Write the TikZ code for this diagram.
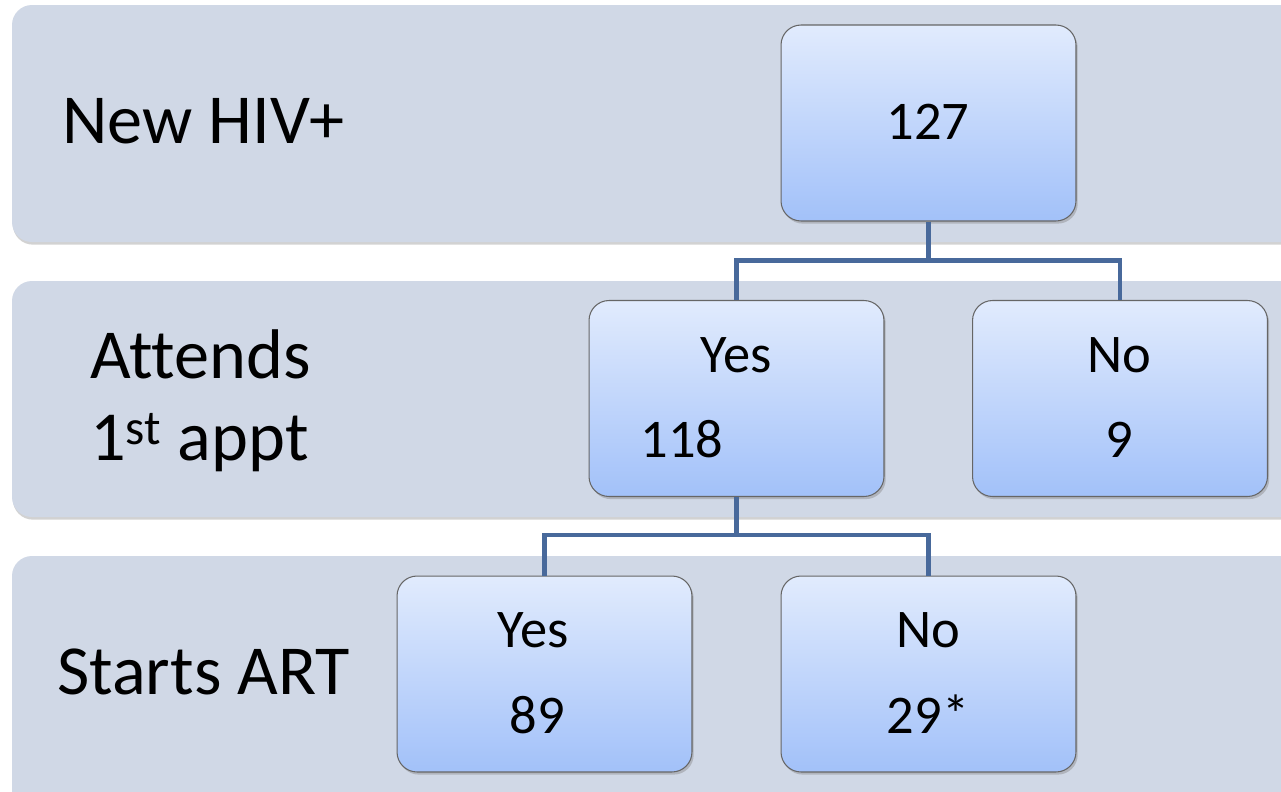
\documentclass[tikz,border=0pt]{standalone}
\usepackage{fontspec}
\setmainfont[Ligatures={NoCommon}]{Carlito}
\usetikzlibrary{positioning,shadows}
\definecolor{bandfill}{HTML}{D0D8E6}
\definecolor{boxtop}{HTML}{E1EBFD}
\definecolor{boxbot}{HTML}{A2C1F9}
\definecolor{linkblue}{HTML}{48699B}
\tikzset{band/.style={fill=bandfill, draw=none, rounded corners=0.4cm,
   drop shadow={shadow xshift=0.5pt, shadow yshift=-1.5pt, opacity=0.35}},
 countbox/.style={draw=gray!80!black, line width=0.6pt, rounded corners=0.4cm,
   top color=boxtop, bottom color=boxbot, minimum width=5.9cm, minimum height=3.92cm,
   drop shadow={shadow xshift=1pt, shadow yshift=-1.5pt, opacity=0.4}},
 stage/.style={anchor=base west, inner sep=0pt, font=\fontsize{40}{48}\selectfont},
 count/.style={anchor=base, inner sep=0pt, font=\fontsize{31}{37}\selectfont},
 link/.style={draw=linkblue, line width=2.3pt},
}

\begin{document}
\begin{tikzpicture}[x=0.02cm, y=-0.02cm]
        \useasboundingbox (0, 0) rectangle (1281, 791);
        \clip (0, 0) rectangle (1281, 791);
        \fill[white] (0, 0) rectangle (1281, 791);
        
        % bands
        \path[band] (12, 5) rectangle (1320, 242);
        \path[band] (12, 281) rectangle (1320, 517);
        \path[band] (12, 556) rectangle (1320, 830);
        
        % stage labels
        \node[stage] (newhiv) at (62, 143) {New HIV+};
        \node[stage] (attends) at (90, 378) {Attends};
        \node[stage] (appt) at (90, 460) {1\textsuperscript{st} appt};
        \node[stage] (starts) at (57, 694) {Starts ART};
        
        % boxes
        \node[countbox] (total) at (928.5, 123) {};
        \node[countbox] (attyes) at (736.5, 398.5) {};
        \node[countbox] (attno) at (1120, 398.5) {};
        \node[countbox] (artyes) at (544.5, 674) {};
        \node[countbox] (artno) at (928.5, 674) {};
        
        % connectors
        \draw[link] (total.south) -- ++(0, 39) -| (attyes.north);
        \draw[link] (total.south) -- ++(0, 39) -| (attno.north);
        \draw[link] (attyes.south) -- ++(0, 38) -| (artyes.north);
        \draw[link] (attyes.south) -- ++(0, 38) -| (artno.north);
        
        % counts
        \node[count] (ntotal) at (928, 139) {127};
        \node[count] (lattyes) at (736, 372) {Yes};
        \node[count] (nattyes) at (682, 457) {118};
        \node[count] (lattno) at (1119, 372) {No};
        \node[count] (nattno) at (1119, 457) {9};
        \node[count] (lartyes) at (533, 647) {Yes};
        \node[count] (nartyes) at (537, 733) {89};
        \node[count] (lartno) at (928, 647) {No};
        \node[count] (nartno) at (928, 733) {29*};
    \end{tikzpicture}
\end{document}
